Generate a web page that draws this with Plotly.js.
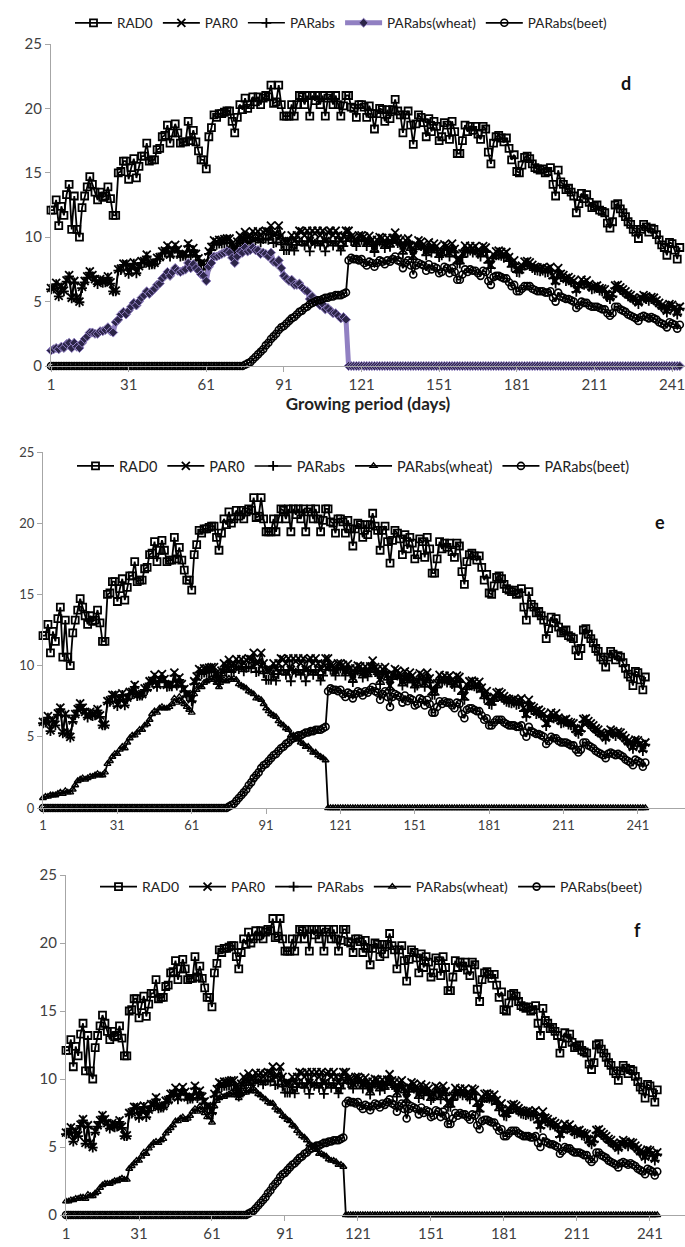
<!DOCTYPE html>
<html>
<head>
<meta charset="utf-8">
<script src="https://cdn.plot.ly/plotly-3.0.1.min.js"></script>
<style>html,body{margin:0;padding:0;background:#fff;}#chart{width:685px;height:1247px;}</style>
</head>
<body>
<div id="chart"></div>
<script>
// Day numbers (categories of the growing period)
const days = Array.from({length: 244}, (_, i) => i + 1);
const xTickVals = [1, 31, 61, 91, 121, 151, 181, 211, 241];
const yTickVals = [0, 5, 10, 15, 20, 25];
const seriesNames = ['RAD0', 'PAR0', 'PARabs', 'PARabs(wheat)', 'PARabs(beet)'];
const panelLabels = ['d', 'e', 'f'];
const xTitle = 'Growing period (days)';

const RAD0 = [
12.1,12.1,12.9,10.9,12.4,11.7,13.3,14.1,10.6,13.2,
10.6,10.0,12.3,13.2,13.9,14.7,14.1,13.5,12.9,13.5,
13.1,13.2,13.9,13.0,11.7,11.7,15.0,15.1,15.9,15.9,
14.5,15.4,16.1,14.6,15.5,16.3,16.3,17.3,15.9,16.0,
16.0,16.8,16.9,17.8,17.9,18.7,17.3,18.1,18.8,18.1,
17.3,17.4,17.4,19.0,17.5,18.3,17.4,16.7,16.0,16.0,
15.3,17.8,18.5,19.5,19.3,19.6,19.6,19.7,19.8,19.8,
19.0,18.1,19.3,20.3,19.9,20.8,20.0,20.3,20.9,20.5,
20.9,20.3,20.8,21.0,20.9,21.8,20.4,20.5,21.8,20.3,
19.4,19.4,19.4,20.3,19.4,20.3,21.0,20.9,20.3,21.0,
19.4,21.0,20.6,21.0,20.3,21.0,19.4,20.8,21.0,20.3,
21.0,20.3,19.4,20.2,21.0,21.0,20.1,20.0,19.3,20.3,
20.3,20.1,19.3,20.2,19.6,18.4,19.6,20.0,19.9,19.0,
19.9,19.2,19.9,20.7,19.8,19.5,18.1,19.5,19.8,18.7,
17.2,18.8,19.5,19.3,18.9,17.8,19.2,18.2,19.0,18.6,
17.5,17.8,18.9,18.7,17.6,19.0,18.2,16.5,16.5,17.5,
18.7,18.2,18.6,18.3,18.6,18.0,17.6,18.6,18.4,16.6,
15.7,17.3,17.8,17.9,17.7,17.4,17.7,16.9,16.0,16.4,
15.1,15.0,15.6,16.2,16.3,16.1,15.7,15.4,15.3,15.2,
15.3,15.0,15.1,15.4,14.1,13.2,15.2,14.3,14.1,13.7,
13.8,13.5,13.2,11.9,12.6,13.4,13.0,13.3,12.7,12.3,
12.4,12.5,12.1,12.0,11.9,11.1,10.7,11.2,12.5,12.6,
12.2,11.9,11.6,11.2,11.0,10.6,10.4,9.9,10.6,11.0,
10.8,10.4,10.7,10.6,10.2,9.8,9.4,9.2,8.6,9.6,
9.5,9.0,8.3,9.2
];

const PAR0 = [
6.05,6.05,6.45,5.45,6.2,5.85,6.65,7.05,5.3,6.6,
5.3,5.0,6.15,6.6,6.95,7.35,7.05,6.75,6.45,6.75,
6.55,6.6,6.95,6.5,5.85,5.85,7.5,7.55,7.95,7.95,
7.25,7.7,8.05,7.3,7.75,8.15,8.15,8.65,7.95,8.0,
8.0,8.4,8.45,8.9,8.95,9.35,8.65,9.05,9.4,9.05,
8.65,8.7,8.7,9.5,8.75,9.15,8.7,8.35,8.0,8.0,
7.65,8.9,9.25,9.75,9.65,9.8,9.8,9.85,9.9,9.9,
9.5,9.05,9.65,10.15,9.95,10.4,10.0,10.15,10.45,10.25,
10.45,10.15,10.4,10.5,10.45,10.9,10.2,10.25,10.9,10.15,
9.7,9.7,9.7,10.15,9.7,10.15,10.5,10.45,10.15,10.5,
9.7,10.5,10.3,10.5,10.15,10.5,9.7,10.4,10.5,10.15,
10.5,10.15,9.7,10.1,10.5,10.5,10.05,10.0,9.65,10.15,
10.15,10.05,9.65,10.1,9.8,9.2,9.8,10.0,9.95,9.5,
9.95,9.6,9.95,10.35,9.9,9.75,9.05,9.75,9.9,9.35,
8.6,9.4,9.75,9.65,9.45,8.9,9.6,9.1,9.5,9.3,
8.75,8.9,9.45,9.35,8.8,9.5,9.1,8.25,8.25,8.75,
9.35,9.1,9.3,9.15,9.3,9.0,8.8,9.3,9.2,8.3,
7.85,8.65,8.9,8.95,8.85,8.7,8.85,8.45,8.0,8.2,
7.55,7.5,7.8,8.1,8.15,8.05,7.85,7.7,7.65,7.6,
7.65,7.5,7.55,7.7,7.05,6.6,7.6,7.15,7.05,6.85,
6.9,6.75,6.6,5.95,6.3,6.7,6.5,6.65,6.35,6.15,
6.2,6.25,6.05,6.0,5.95,5.55,5.35,5.6,6.25,6.3,
6.1,5.95,5.8,5.6,5.5,5.3,5.2,4.95,5.3,5.5,
5.4,5.2,5.35,5.3,5.1,4.9,4.7,4.6,4.3,4.8,
4.75,4.5,4.15,4.6
];

const PARabs = [
5.95,6.0,6.35,5.4,6.1,5.8,6.55,6.95,5.25,6.5,
5.25,4.95,6.05,6.5,6.85,7.25,6.95,6.65,6.35,6.65,
6.45,6.5,6.85,6.4,5.8,5.8,7.4,7.45,7.85,7.85,
7.15,7.6,7.95,7.2,7.65,8.0,8.0,8.5,7.85,7.9,
7.9,8.3,8.3,8.75,8.8,9.15,8.5,8.9,9.2,8.9,
8.5,8.55,8.55,9.3,8.6,9.0,8.55,8.2,7.85,7.85,
7.5,8.7,9.0,9.5,9.4,9.5,9.5,9.55,9.55,9.55,
9.15,8.7,9.3,9.75,9.55,9.95,9.55,9.7,9.95,9.75,
9.9,9.6,9.85,9.9,9.8,10.2,9.55,9.6,10.15,9.45,
9.0,9.0,9.0,9.4,8.95,9.4,9.7,9.65,9.35,9.7,
8.9,9.7,9.5,9.7,9.35,9.7,8.9,9.6,9.7,9.35,
9.7,9.35,8.95,9.3,9.7,10.1,9.7,9.65,9.3,9.8,
9.8,9.7,9.3,9.75,9.45,8.85,9.45,9.65,9.6,9.15,
9.6,9.25,9.6,10.0,9.55,9.4,8.7,9.4,9.55,9.0,
8.3,9.05,9.4,9.3,9.1,8.6,9.25,8.8,9.15,8.95,
8.45,8.6,9.1,9.0,8.5,9.15,8.8,7.95,7.95,8.45,
9.0,8.8,8.95,8.8,8.95,8.7,8.5,8.95,8.85,8.0,
7.6,8.35,8.6,8.6,8.55,8.4,8.5,8.15,7.7,7.9,
7.3,7.25,7.5,7.8,7.85,7.75,7.6,7.45,7.4,7.35,
7.4,7.25,7.3,7.4,6.8,6.4,7.35,6.9,6.8,6.6,
6.65,6.5,6.4,5.75,6.1,6.45,6.3,6.4,6.15,5.95,
6.0,6.05,5.85,5.8,5.75,5.35,5.2,5.4,6.05,6.1,
5.9,5.75,5.6,5.4,5.3,5.15,5.05,4.8,5.15,5.3,
5.2,5.05,5.2,5.1,4.95,4.75,4.55,4.45,4.15,4.65,
4.6,4.35,4.0,4.45
];

const wheatD = [
1.2,1.3,1.4,1.3,1.5,1.4,1.7,1.8,1.4,1.8,
1.5,1.4,1.8,2.1,2.3,2.6,2.6,2.5,2.5,2.7,
2.7,2.8,3.0,2.7,2.6,3.4,3.6,4.0,4.2,4.0,
4.3,4.6,4.9,4.7,5.0,5.3,5.5,5.8,5.6,5.8,
6.0,6.3,6.4,6.8,7.0,7.3,7.0,7.3,7.6,7.4,
7.3,7.4,7.5,8.0,7.6,7.9,7.6,7.4,7.1,7.0,
6.6,7.7,8.0,8.5,8.5,8.6,8.7,8.8,8.9,8.8,
8.4,8.0,8.5,8.9,8.8,9.2,8.9,9.0,9.2,9.0,
9.0,8.7,8.8,8.7,8.5,8.8,8.1,8.0,8.2,7.6,
7.0,6.8,6.6,6.7,6.3,6.3,6.4,6.1,5.9,5.8,
5.2,5.4,5.1,5.0,4.7,4.8,4.4,4.5,4.3,4.1,
4.1,3.9,3.7,3.8,3.6,0,0,0,0,0,
0,0,0,0,0,0,0,0,0,0,
0,0,0,0,0,0,0,0,0,0,
0,0,0,0,0,0,0,0,0,0,
0,0,0,0,0,0,0,0,0,0,
0,0,0,0,0,0,0,0,0,0,
0,0,0,0,0,0,0,0,0,0,
0,0,0,0,0,0,0,0,0,0,
0,0,0,0,0,0,0,0,0,0,
0,0,0,0,0,0,0,0,0,0,
0,0,0,0,0,0,0,0,0,0,
0,0,0,0,0,0,0,0,0,0,
0,0,0,0,0,0,0,0,0,0,
0,0,0,0
];

const wheatE = [
0.7,0.8,0.8,0.9,0.9,0.9,1.0,1.1,1.0,1.2,
1.1,1.1,1.3,1.6,1.9,2.0,2.1,2.0,2.1,2.2,
2.2,2.3,2.4,2.3,2.3,2.5,3.1,3.3,3.6,3.8,
3.8,4.1,4.3,4.2,4.6,4.9,5.1,5.1,5.3,5.5,
5.5,5.8,5.9,6.2,6.6,6.8,6.7,7.0,7.1,7.0,
7.0,7.1,7.3,7.7,7.4,7.8,7.5,7.3,7.1,6.9,
6.7,8.0,8.3,8.6,8.5,8.8,8.9,9.0,9.1,9.0,
8.8,8.5,9.0,9.0,8.9,9.1,9.0,9.1,9.0,8.7,
8.6,8.5,8.4,8.2,8.1,8.0,7.7,7.7,7.6,7.3,
7.0,6.8,6.6,6.5,6.4,6.1,5.9,5.8,5.6,5.5,
5.1,5.1,4.9,4.8,4.6,4.5,4.3,4.3,4.1,3.9,
3.9,3.7,3.6,3.5,3.35,0,0,0,0,0,
0,0,0,0,0,0,0,0,0,0,
0,0,0,0,0,0,0,0,0,0,
0,0,0,0,0,0,0,0,0,0,
0,0,0,0,0,0,0,0,0,0,
0,0,0,0,0,0,0,0,0,0,
0,0,0,0,0,0,0,0,0,0,
0,0,0,0,0,0,0,0,0,0,
0,0,0,0,0,0,0,0,0,0,
0,0,0,0,0,0,0,0,0,0,
0,0,0,0,0,0,0,0,0,0,
0,0,0,0,0,0,0,0,0,0,
0,0,0,0,0,0,0,0,0,0,
0,0,0,0
];

const wheatF = [
1.0,1.0,1.1,1.1,1.2,1.2,1.3,1.3,1.2,1.5,
1.4,1.4,1.6,1.7,2.0,2.2,2.3,2.3,2.3,2.4,
2.5,2.5,2.6,2.7,2.6,2.6,3.4,3.6,3.8,4.0,
4.0,4.3,4.6,4.5,4.9,5.1,5.3,5.4,5.3,5.5,
5.6,6.0,6.2,6.4,6.6,6.9,6.9,7.1,7.2,7.0,
7.1,7.3,7.6,7.8,7.6,8.0,7.7,7.5,7.2,7.2,
6.8,8.0,8.4,8.6,8.7,8.7,8.8,8.9,9.0,8.8,
9.1,8.6,8.9,9.0,9.0,9.2,9.1,9.3,9.1,8.9,
8.8,8.6,8.5,8.3,8.2,8.2,7.9,7.7,7.6,7.3,
7.2,7.0,6.9,6.6,6.5,6.2,6.0,5.8,5.7,5.5,
5.2,5.1,5.0,4.8,4.5,4.5,4.4,4.3,4.1,4.0,
4.0,3.9,3.7,3.7,3.55,0,0,0,0,0,
0,0,0,0,0,0,0,0,0,0,
0,0,0,0,0,0,0,0,0,0,
0,0,0,0,0,0,0,0,0,0,
0,0,0,0,0,0,0,0,0,0,
0,0,0,0,0,0,0,0,0,0,
0,0,0,0,0,0,0,0,0,0,
0,0,0,0,0,0,0,0,0,0,
0,0,0,0,0,0,0,0,0,0,
0,0,0,0,0,0,0,0,0,0,
0,0,0,0,0,0,0,0,0,0,
0,0,0,0,0,0,0,0,0,0,
0,0,0,0,0,0,0,0,0,0,
0,0,0,0
];

const beet = [
0,0,0,0,0,0,0,0,0,0,
0,0,0,0,0,0,0,0,0,0,
0,0,0,0,0,0,0,0,0,0,
0,0,0,0,0,0,0,0,0,0,
0,0,0,0,0,0,0,0,0,0,
0,0,0,0,0,0,0,0,0,0,
0,0,0,0,0,0,0,0,0,0,
0,0,0,0,0,0.1,0.2,0.3,0.5,0.7,
0.9,1.1,1.3,1.6,1.8,2.1,2.3,2.5,2.8,3.0,
3.1,3.3,3.5,3.7,3.8,4.0,4.2,4.3,4.5,4.6,
4.8,4.9,5.0,5.1,5.1,5.2,5.3,5.3,5.4,5.4,
5.5,5.5,5.5,5.6,5.7,8.2,8.4,8.3,8.3,8.2,
8.3,8.0,7.8,8.1,8.0,7.7,8.0,8.2,8.1,7.9,
8.2,8.1,8.3,8.5,8.2,8.1,7.6,8.0,8.2,7.8,
7.1,7.8,8.0,7.9,7.8,7.4,7.9,7.5,7.7,7.6,
7.2,7.3,7.7,7.6,7.2,7.6,7.3,6.7,6.7,7.1,
7.5,7.3,7.5,7.4,7.4,7.2,7.0,7.4,7.3,6.6,
6.3,6.9,7.0,7.0,6.9,6.8,6.8,6.5,6.2,6.3,
5.8,5.8,6.0,6.2,6.2,6.2,6.0,5.9,5.8,5.8,
5.8,5.7,5.7,5.8,5.3,5.0,5.7,5.4,5.3,5.2,
5.2,5.1,5.0,4.5,4.7,5.0,4.9,4.9,4.7,4.6,
4.6,4.6,4.5,4.4,4.4,4.1,3.9,4.1,4.6,4.6,
4.4,4.3,4.2,4.0,3.9,3.8,3.7,3.5,3.8,3.9,
3.8,3.7,3.8,3.7,3.6,3.4,3.3,3.2,3.0,3.4,
3.3,3.2,2.9,3.2
];

const H = 1247, W = 685;
const py = p => 1 - p / H;
const px = p => p / W;

const panels = [
  {xa: 'x',  ya: 'y',  leg: 'legend',  wheat: wheatD, purple: true},
  {xa: 'x2', ya: 'y2', leg: 'legend2', wheat: wheatE, purple: false},
  {xa: 'x3', ya: 'y3', leg: 'legend3', wheat: wheatF, purple: false}
];

const traces = [];
panels.forEach(p => {
  const base = {type: 'scatter', mode: 'lines+markers', x: days, xaxis: p.xa, yaxis: p.ya, legend: p.leg, cliponaxis: false};
  traces.push(Object.assign({}, base, {name: seriesNames[0], y: RAD0,
    line: {color: '#000', width: 1.8},
    marker: {symbol: 'square-open', size: 7, color: '#000', line: {width: 1.8, color: '#000'}}}));
  traces.push(Object.assign({}, base, {name: seriesNames[1], y: PAR0,
    line: {color: '#000', width: 1.8},
    marker: {symbol: 'x-thin-open', size: 8, color: '#000', line: {width: 1.8, color: '#000'}}}));
  traces.push(Object.assign({}, base, {name: seriesNames[2], y: PARabs,
    line: {color: '#000', width: 1.6},
    marker: {symbol: 'cross-thin-open', size: 7, color: '#000', line: {width: 1.8, color: '#000'}}}));
  if (p.purple) {
    traces.push(Object.assign({}, base, {name: seriesNames[3], y: p.wheat,
      line: {color: '#9180c2', width: 5},
      marker: {symbol: 'diamond', size: 7, color: '#2c2548', line: {width: 1, color: '#9180c2'}}}));
  } else {
    traces.push(Object.assign({}, base, {name: seriesNames[3], y: p.wheat,
      line: {color: '#000', width: 1.8},
      marker: {symbol: 'triangle-up-open', size: 6, color: '#000', line: {width: 1.4, color: '#000'}}}));
  }
  traces.push(Object.assign({}, base, {name: seriesNames[4], y: beet,
    line: {color: '#000', width: 1.8},
    marker: {symbol: 'circle-open', size: 7, color: '#000', line: {width: 1.6, color: '#000'}}}));
});

const axisCommon = {
  showline: true, linecolor: '#a6a6a6', linewidth: 1, ticks: 'outside', ticklen: 5,
  tickcolor: '#a6a6a6', showgrid: false, zeroline: false, ticklabeloverflow: 'allow'
};
const tickFont = s => ({family: 'Lato, "Open Sans", sans-serif', size: s, color: '#404040'});
const legFont = s => ({family: 'Lato, "Open Sans", sans-serif', size: s, color: '#222'});

const legendCommon = {
  orientation: 'h', xanchor: 'left', yanchor: 'middle', bgcolor: 'rgba(0,0,0,0)',
  itemwidth: 37, traceorder: 'normal'
};

const layout = {
  width: W, height: H,
  margin: {l: 0, r: 0, t: 0, b: 0},
  paper_bgcolor: '#fff', plot_bgcolor: '#fff',
  showlegend: true,
  xaxis: Object.assign({}, axisCommon, {domain: [px(51), 1], range: [1, 246], anchor: 'y',
    tickmode: 'array', tickvals: xTickVals, tickfont: tickFont(15),
    title: {text: xTitle, font: {family: 'Lato, "Open Sans", sans-serif', size: 17, color: '#222', weight: 'bold'}, standoff: 4}}),
  yaxis: Object.assign({}, axisCommon, {domain: [py(366), py(44)], range: [0, 25], anchor: 'x',
    tickmode: 'array', tickvals: yTickVals, tickfont: tickFont(15)}),
  xaxis2: Object.assign({}, axisCommon, {domain: [px(43), 1], range: [1, 260], anchor: 'y2',
    tickmode: 'array', tickvals: xTickVals, tickfont: tickFont(13)}),
  yaxis2: Object.assign({}, axisCommon, {domain: [py(808), py(452)], range: [0, 25], anchor: 'x2',
    tickmode: 'array', tickvals: yTickVals, tickfont: tickFont(13)}),
  xaxis3: Object.assign({}, axisCommon, {domain: [px(66), 1], range: [1, 255.4], anchor: 'y3',
    tickmode: 'array', tickvals: xTickVals, tickfont: tickFont(15)}),
  yaxis3: Object.assign({}, axisCommon, {domain: [py(1215), py(875)], range: [0, 25], anchor: 'x3',
    tickmode: 'array', tickvals: yTickVals, tickfont: tickFont(15)}),
  legend: Object.assign({}, legendCommon, {x: px(70), y: py(23), font: legFont(13.5)}),
  legend2: Object.assign({}, legendCommon, {x: px(72), y: py(466), font: legFont(14.5)}),
  legend3: Object.assign({}, legendCommon, {x: px(95), y: py(887), font: legFont(14)}),
  annotations: [
    {text: panelLabels[0], x: px(633), y: py(70), xref: 'paper', yref: 'paper', showarrow: false,
     font: {family: 'Lato, sans-serif', size: 18, color: '#111', weight: 'bold'}},
    {text: panelLabels[1], x: px(667), y: py(522), xref: 'paper', yref: 'paper', showarrow: false,
     font: {family: 'Lato, sans-serif', size: 18, color: '#111', weight: 'bold'}},
    {text: panelLabels[2], x: px(643), y: py(943), xref: 'paper', yref: 'paper', showarrow: false,
     font: {family: 'Lato, sans-serif', size: 18, color: '#111', weight: 'bold'}}
  ]
};

Plotly.newPlot('chart', traces, layout, {displayModeBar: false, staticPlot: true});
</script>
</body>
</html>
